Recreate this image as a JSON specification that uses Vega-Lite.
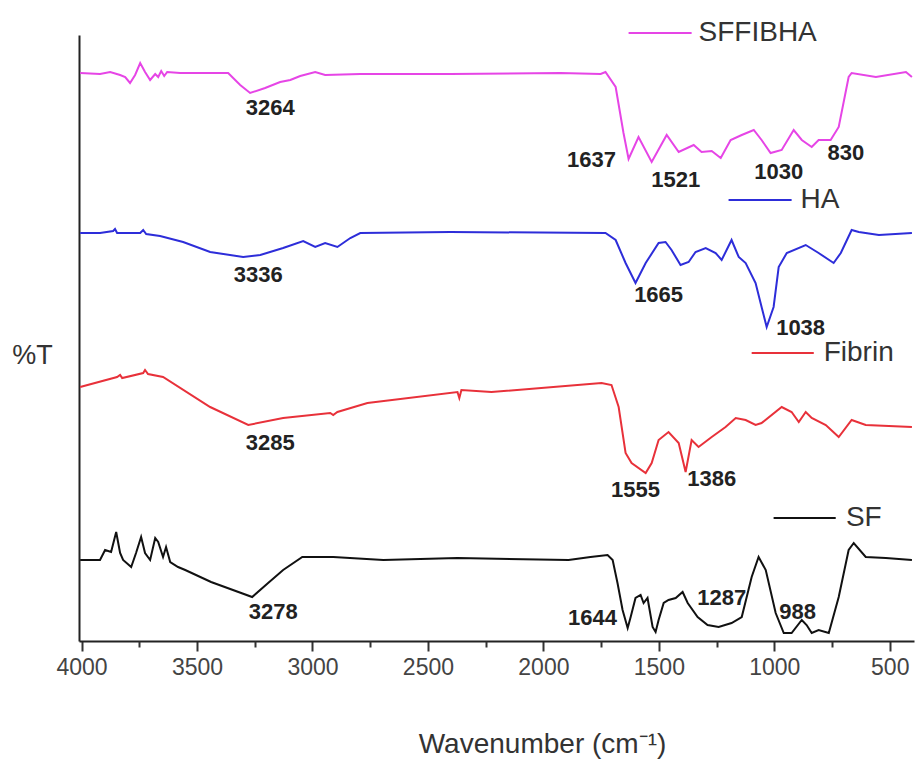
{
  "$schema": "https://vega.github.io/schema/vega-lite/v6.json",
  "width": 835,
  "height": 606,
  "autosize": "none",
  "padding": {"left": 79, "top": 35, "right": 3, "bottom": 119},
  "background": "#ffffff",
  "config": {"view": {"stroke": null}, "font": "Liberation Sans"},
  "resolve": {"axis": {"x": "independent", "y": "independent"}},
  "datasets": {
    "spectra": [
      {"s":"SFFIBHA","wn":4006,"t":568},{"s":"SFFIBHA","wn":3920,"t":567},{"s":"SFFIBHA","wn":3876,"t":569},{"s":"SFFIBHA","wn":3833,"t":566},{"s":"SFFIBHA","wn":3811,"t":564},{"s":"SFFIBHA","wn":3790,"t":558},{"s":"SFFIBHA","wn":3768,"t":566},{"s":"SFFIBHA","wn":3746,"t":578},{"s":"SFFIBHA","wn":3725,"t":569},{"s":"SFFIBHA","wn":3703,"t":561},{"s":"SFFIBHA","wn":3681,"t":567},{"s":"SFFIBHA","wn":3668,"t":564},{"s":"SFFIBHA","wn":3655,"t":570},{"s":"SFFIBHA","wn":3642,"t":565},{"s":"SFFIBHA","wn":3629,"t":569},{"s":"SFFIBHA","wn":3573,"t":568},{"s":"SFFIBHA","wn":3365,"t":568},{"s":"SFFIBHA","wn":3313,"t":556},{"s":"SFFIBHA","wn":3270,"t":548},{"s":"SFFIBHA","wn":3205,"t":553},{"s":"SFFIBHA","wn":3140,"t":559},{"s":"SFFIBHA","wn":3096,"t":561},{"s":"SFFIBHA","wn":3053,"t":565},{"s":"SFFIBHA","wn":2988,"t":569},{"s":"SFFIBHA","wn":2945,"t":566},{"s":"SFFIBHA","wn":2793,"t":567},{"s":"SFFIBHA","wn":2403,"t":567},{"s":"SFFIBHA","wn":1926,"t":568},{"s":"SFFIBHA","wn":1752,"t":567},{"s":"SFFIBHA","wn":1731,"t":569},{"s":"SFFIBHA","wn":1687,"t":554},{"s":"SFFIBHA","wn":1653,"t":508},{"s":"SFFIBHA","wn":1631,"t":482},{"s":"SFFIBHA","wn":1588,"t":504},{"s":"SFFIBHA","wn":1531,"t":479},{"s":"SFFIBHA","wn":1466,"t":506},{"s":"SFFIBHA","wn":1414,"t":489},{"s":"SFFIBHA","wn":1349,"t":496},{"s":"SFFIBHA","wn":1315,"t":489},{"s":"SFFIBHA","wn":1271,"t":490},{"s":"SFFIBHA","wn":1232,"t":483},{"s":"SFFIBHA","wn":1189,"t":501},{"s":"SFFIBHA","wn":1141,"t":506},{"s":"SFFIBHA","wn":1089,"t":511},{"s":"SFFIBHA","wn":1055,"t":501},{"s":"SFFIBHA","wn":1016,"t":488},{"s":"SFFIBHA","wn":968,"t":491},{"s":"SFFIBHA","wn":916,"t":511},{"s":"SFFIBHA","wn":881,"t":501},{"s":"SFFIBHA","wn":838,"t":494},{"s":"SFFIBHA","wn":808,"t":501},{"s":"SFFIBHA","wn":756,"t":501},{"s":"SFFIBHA","wn":721,"t":514},{"s":"SFFIBHA","wn":678,"t":564},{"s":"SFFIBHA","wn":665,"t":568},{"s":"SFFIBHA","wn":560,"t":564},{"s":"SFFIBHA","wn":430,"t":569},{"s":"SFFIBHA","wn":404,"t":564},
      {"s":"HA","wn":4006,"t":408},{"s":"HA","wn":3920,"t":408},{"s":"HA","wn":3863,"t":410},{"s":"HA","wn":3855,"t":412},{"s":"HA","wn":3846,"t":408},{"s":"HA","wn":3746,"t":408},{"s":"HA","wn":3733,"t":411},{"s":"HA","wn":3720,"t":407},{"s":"HA","wn":3660,"t":405},{"s":"HA","wn":3560,"t":399},{"s":"HA","wn":3443,"t":389},{"s":"HA","wn":3300,"t":384},{"s":"HA","wn":3226,"t":386},{"s":"HA","wn":3127,"t":393},{"s":"HA","wn":3040,"t":400},{"s":"HA","wn":2988,"t":394},{"s":"HA","wn":2945,"t":398},{"s":"HA","wn":2892,"t":394},{"s":"HA","wn":2836,"t":403},{"s":"HA","wn":2793,"t":408},{"s":"HA","wn":2403,"t":409},{"s":"HA","wn":1731,"t":408},{"s":"HA","wn":1687,"t":401},{"s":"HA","wn":1644,"t":378},{"s":"HA","wn":1601,"t":358},{"s":"HA","wn":1557,"t":378},{"s":"HA","wn":1501,"t":398},{"s":"HA","wn":1471,"t":399},{"s":"HA","wn":1445,"t":391},{"s":"HA","wn":1406,"t":376},{"s":"HA","wn":1371,"t":379},{"s":"HA","wn":1341,"t":389},{"s":"HA","wn":1297,"t":393},{"s":"HA","wn":1254,"t":388},{"s":"HA","wn":1228,"t":381},{"s":"HA","wn":1185,"t":401},{"s":"HA","wn":1154,"t":384},{"s":"HA","wn":1124,"t":378},{"s":"HA","wn":1081,"t":358},{"s":"HA","wn":1055,"t":334},{"s":"HA","wn":1033,"t":314},{"s":"HA","wn":1003,"t":334},{"s":"HA","wn":981,"t":374},{"s":"HA","wn":946,"t":388},{"s":"HA","wn":864,"t":396},{"s":"HA","wn":808,"t":388},{"s":"HA","wn":743,"t":378},{"s":"HA","wn":712,"t":388},{"s":"HA","wn":665,"t":411},{"s":"HA","wn":634,"t":409},{"s":"HA","wn":547,"t":406},{"s":"HA","wn":404,"t":408},
      {"s":"Fibrin","wn":4006,"t":254},{"s":"Fibrin","wn":3846,"t":264},{"s":"Fibrin","wn":3833,"t":266},{"s":"Fibrin","wn":3824,"t":263},{"s":"Fibrin","wn":3733,"t":268},{"s":"Fibrin","wn":3725,"t":271},{"s":"Fibrin","wn":3712,"t":267},{"s":"Fibrin","wn":3647,"t":264},{"s":"Fibrin","wn":3443,"t":234},{"s":"Fibrin","wn":3278,"t":216},{"s":"Fibrin","wn":3127,"t":223},{"s":"Fibrin","wn":2923,"t":228},{"s":"Fibrin","wn":2910,"t":226},{"s":"Fibrin","wn":2892,"t":229},{"s":"Fibrin","wn":2762,"t":238},{"s":"Fibrin","wn":2372,"t":249},{"s":"Fibrin","wn":2364,"t":243},{"s":"Fibrin","wn":2355,"t":251},{"s":"Fibrin","wn":2225,"t":249},{"s":"Fibrin","wn":1748,"t":258},{"s":"Fibrin","wn":1705,"t":256},{"s":"Fibrin","wn":1674,"t":234},{"s":"Fibrin","wn":1644,"t":188},{"s":"Fibrin","wn":1618,"t":178},{"s":"Fibrin","wn":1557,"t":168},{"s":"Fibrin","wn":1531,"t":178},{"s":"Fibrin","wn":1501,"t":201},{"s":"Fibrin","wn":1458,"t":209},{"s":"Fibrin","wn":1414,"t":198},{"s":"Fibrin","wn":1384,"t":169},{"s":"Fibrin","wn":1358,"t":201},{"s":"Fibrin","wn":1328,"t":194},{"s":"Fibrin","wn":1271,"t":204},{"s":"Fibrin","wn":1211,"t":214},{"s":"Fibrin","wn":1167,"t":223},{"s":"Fibrin","wn":1124,"t":221},{"s":"Fibrin","wn":1081,"t":216},{"s":"Fibrin","wn":1055,"t":218},{"s":"Fibrin","wn":968,"t":234},{"s":"Fibrin","wn":925,"t":229},{"s":"Fibrin","wn":894,"t":219},{"s":"Fibrin","wn":864,"t":229},{"s":"Fibrin","wn":838,"t":223},{"s":"Fibrin","wn":777,"t":216},{"s":"Fibrin","wn":721,"t":204},{"s":"Fibrin","wn":665,"t":221},{"s":"Fibrin","wn":604,"t":216},{"s":"Fibrin","wn":404,"t":214},
      {"s":"SF","wn":4006,"t":81},{"s":"SF","wn":3920,"t":81},{"s":"SF","wn":3898,"t":91},{"s":"SF","wn":3872,"t":89},{"s":"SF","wn":3850,"t":109},{"s":"SF","wn":3833,"t":88},{"s":"SF","wn":3820,"t":81},{"s":"SF","wn":3785,"t":74},{"s":"SF","wn":3764,"t":88},{"s":"SF","wn":3742,"t":104},{"s":"SF","wn":3725,"t":88},{"s":"SF","wn":3703,"t":81},{"s":"SF","wn":3681,"t":103},{"s":"SF","wn":3668,"t":99},{"s":"SF","wn":3647,"t":84},{"s":"SF","wn":3634,"t":94},{"s":"SF","wn":3616,"t":79},{"s":"SF","wn":3582,"t":74},{"s":"SF","wn":3551,"t":71},{"s":"SF","wn":3439,"t":59},{"s":"SF","wn":3261,"t":44},{"s":"SF","wn":3192,"t":58},{"s":"SF","wn":3127,"t":71},{"s":"SF","wn":3044,"t":84},{"s":"SF","wn":2910,"t":84},{"s":"SF","wn":2693,"t":81},{"s":"SF","wn":2372,"t":83},{"s":"SF","wn":1891,"t":81},{"s":"SF","wn":1796,"t":84},{"s":"SF","wn":1722,"t":86},{"s":"SF","wn":1700,"t":81},{"s":"SF","wn":1679,"t":58},{"s":"SF","wn":1657,"t":31},{"s":"SF","wn":1635,"t":13},{"s":"SF","wn":1622,"t":24},{"s":"SF","wn":1601,"t":43},{"s":"SF","wn":1579,"t":46},{"s":"SF","wn":1566,"t":38},{"s":"SF","wn":1549,"t":43},{"s":"SF","wn":1527,"t":14},{"s":"SF","wn":1514,"t":9},{"s":"SF","wn":1501,"t":21},{"s":"SF","wn":1479,"t":38},{"s":"SF","wn":1458,"t":41},{"s":"SF","wn":1427,"t":43},{"s":"SF","wn":1397,"t":49},{"s":"SF","wn":1375,"t":38},{"s":"SF","wn":1332,"t":24},{"s":"SF","wn":1289,"t":16},{"s":"SF","wn":1241,"t":14},{"s":"SF","wn":1185,"t":18},{"s":"SF","wn":1141,"t":24},{"s":"SF","wn":1098,"t":64},{"s":"SF","wn":1068,"t":84},{"s":"SF","wn":1037,"t":71},{"s":"SF","wn":994,"t":28},{"s":"SF","wn":959,"t":8},{"s":"SF","wn":925,"t":8},{"s":"SF","wn":881,"t":21},{"s":"SF","wn":860,"t":16},{"s":"SF","wn":838,"t":8},{"s":"SF","wn":808,"t":11},{"s":"SF","wn":764,"t":8},{"s":"SF","wn":721,"t":44},{"s":"SF","wn":678,"t":91},{"s":"SF","wn":656,"t":98},{"s":"SF","wn":604,"t":84},{"s":"SF","wn":517,"t":83},{"s":"SF","wn":404,"t":81}
    ],
    "peaks": [
      {"label":"3264","wn":3183,"t":533},{"label":"1637","wn":1792,"t":481},{"label":"1521","wn":1427,"t":461},{"label":"1030","wn":981,"t":469},{"label":"830","wn":690,"t":488},
      {"label":"3336","wn":3235,"t":366},{"label":"1665","wn":1501,"t":346},{"label":"1038","wn":886,"t":313},
      {"label":"3285","wn":3183,"t":198},{"label":"1555","wn":1601,"t":151},{"label":"1386","wn":1271,"t":162},
      {"label":"3278","wn":3170,"t":29},{"label":"1644","wn":1787,"t":23},{"label":"1287","wn":1228,"t":43},{"label":"988","wn":899,"t":29}
    ],
    "legend": [
      {"s":"SFFIBHA","wn":1631,"wn2":1358,"tx":1328,"t":608},
      {"s":"HA","wn":1198,"wn2":925,"tx":886,"t":441},
      {"s":"Fibrin","wn":1098,"wn2":829,"tx":786,"t":288},
      {"s":"SF","wn":1003,"wn2":734,"tx":690,"t":123}
    ]
  },
  "layer": [
    {
      "data": {"name": "spectra"},
      "mark": {"type": "line", "strokeWidth": 2, "interpolate": "linear"},
      "encoding": {
        "x": {
          "field": "wn", "type": "quantitative",
          "scale": {"domain": [395, 4011], "reverse": true, "nice": false, "zero": false},
          "axis": {
            "orient": "bottom",
            "title": "Wavenumber (cm⁻¹)",
            "values": [4000, 3500, 3000, 2500, 2000, 1500, 1000, 500],
            "format": "d",
            "grid": false,
            "domainColor": "#222222", "domainWidth": 2,
            "tickColor": "#333333", "tickWidth": 2, "tickSize": 10,
            "labelFont": "Liberation Sans", "labelFontSize": 23, "labelColor": "#444444", "labelPadding": 5,
            "labelFlush": false, "labelOverlap": false,
            "titleFont": "Liberation Sans", "titleFontSize": 28, "titleFontWeight": "normal", "titleColor": "#333333",
            "titleX": 463, "titleY": 111, "titleAlign": "center", "titleBaseline": "alphabetic"
          }
        },
        "y": {
          "field": "t", "type": "quantitative",
          "scale": {"domain": [0, 606], "nice": false, "zero": false},
          "axis": {
            "orient": "left",
            "title": "%T", "ticks": false, "labels": false, "grid": false,
            "domainColor": "#222222", "domainWidth": 2,
            "titleFont": "Liberation Sans", "titleFontSize": 27, "titleFontWeight": "normal", "titleColor": "#333333",
            "titleAngle": 0, "titleX": -47, "titleY": 328, "titleAlign": "center", "titleBaseline": "alphabetic"
          }
        },
        "color": {
          "field": "s", "type": "nominal",
          "scale": {"domain": ["SFFIBHA", "HA", "Fibrin", "SF"], "range": ["#e645e6", "#2d2dd9", "#e8313a", "#111111"]},
          "legend": null
        },
        "detail": {"field": "s"}
      }
    },
    {
      "data": {"name": "peaks"},
      "mark": {"type": "text", "font": "Liberation Sans", "fontSize": 22, "fontWeight": "bold", "color": "#222222", "align": "center", "baseline": "middle"},
      "encoding": {
        "x": {"field": "wn", "type": "quantitative", "axis": null},
        "y": {"field": "t", "type": "quantitative", "axis": null},
        "text": {"field": "label"}
      }
    },
    {
      "data": {"name": "legend"},
      "mark": {"type": "rule", "strokeWidth": 2},
      "encoding": {
        "x": {
          "field": "wn", "type": "quantitative",
          "axis": {
            "orient": "bottom",
            "title": null,
            "values": [3750, 3250, 2750, 2250, 1750, 1250, 750],
            "labels": false, "domain": false, "grid": false,
            "tickColor": "#333333", "tickWidth": 2, "tickSize": 6
          }
        },
        "x2": {"field": "wn2"},
        "y": {"field": "t", "type": "quantitative", "axis": null},
        "color": {"field": "s", "type": "nominal", "legend": null}
      }
    },
    {
      "data": {"name": "legend"},
      "mark": {"type": "text", "font": "Liberation Sans", "fontSize": 28, "color": "#333333", "align": "left", "baseline": "middle"},
      "encoding": {
        "x": {"field": "tx", "type": "quantitative", "axis": null},
        "y": {"field": "t", "type": "quantitative", "axis": null},
        "text": {"field": "s"}
      }
    }
  ]
}
